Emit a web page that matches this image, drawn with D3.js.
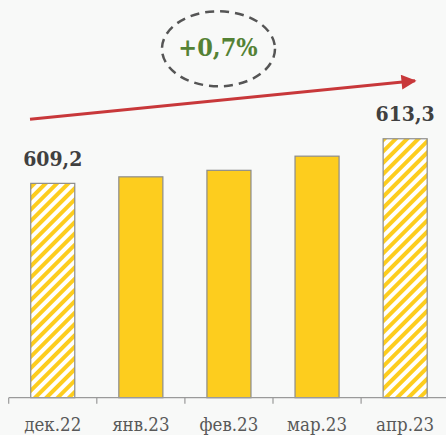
<!DOCTYPE html>
<html>
<head>
<meta charset="utf-8">
<script src="https://cdn.jsdelivr.net/npm/d3@7"></script>
<style>
  html, body { margin: 0; padding: 0; background: #f8f9f8; }
  svg { display: block; }
</style>
</head>
<body>
<svg id="chart" width="446" height="435"></svg>
<script>
// Monthly values, first and last months highlighted with hatching
const months = ["дек.22", "янв.23", "фев.23", "мар.23", "апр.23"];
const values = [609.2, 609.8, 610.4, 611.7, 613.3];
const hatched = [true, false, false, false, true];
const labelled = [true, false, false, false, true];
const changeText = "+0,7%";

const svg = d3.select("#chart");
const W = 446, H = 435;
const FONT = "'DejaVu Serif Condensed', 'DejaVu Serif', serif";

const x = d3.scaleBand()
  .domain(months)
  .range([8.7, 449.2])
  .paddingInner(0.5)
  .paddingOuter(0.25);

const y = d3.scaleLinear()
  .domain([589.5, 614])
  .range([397.7, 397.7 - 24.5 * 10.88]);

const defs = svg.append("defs");
const pat = defs.append("pattern")
  .attr("id", "hatch")
  .attr("patternUnits", "userSpaceOnUse")
  .attr("width", 8).attr("height", 8)
  .attr("patternTransform", "rotate(45)");
pat.append("rect").attr("width", 8).attr("height", 8).attr("fill", "#ffffff");
pat.append("rect").attr("width", 4).attr("height", 8).attr("fill", "#fdcd1e");

const data = months.map((m, i) => ({ m, v: values[i], h: hatched[i], l: labelled[i] }));

// Bars
svg.append("g").selectAll("rect")
  .data(data)
  .join("rect")
  .attr("x", d => x(d.m))
  .attr("y", d => y(d.v))
  .attr("width", x.bandwidth())
  .attr("height", d => y(589.5) - y(d.v))
  .attr("fill", d => d.h ? "url(#hatch)" : "#fdcd1e")
  .attr("stroke", "#8c8c8c")
  .attr("stroke-width", 1.2);

// Category axis with ticks between bands
const axisY = y(589.5);
const ax = svg.append("g");
ax.append("line")
  .attr("x1", x.range()[0]).attr("x2", W)
  .attr("y1", axisY).attr("y2", axisY)
  .attr("stroke", "#9a9a9a").attr("stroke-width", 1.2);
ax.selectAll("line.tick")
  .data(months)
  .join("line")
  .attr("class", "tick")
  .attr("x1", d => x(d) - x.step() * 0.25)
  .attr("x2", d => x(d) - x.step() * 0.25)
  .attr("y1", axisY).attr("y2", axisY + 6)
  .attr("stroke", "#9a9a9a").attr("stroke-width", 1.2);
ax.selectAll("text")
  .data(months)
  .join("text")
  .attr("x", d => x(d) + x.bandwidth() / 2)
  .attr("y", 430.5)
  .attr("text-anchor", "middle")
  .attr("font-family", FONT)
  .attr("font-size", 18.5)
  .attr("fill", "#595959")
  .text(d => d);

// Value labels on highlighted bars
svg.append("g").selectAll("text")
  .data(data.filter(d => d.l))
  .join("text")
  .attr("x", d => x(d.m) + x.bandwidth() / 2)
  .attr("y", d => y(d.v) - 17.5)
  .attr("text-anchor", "middle")
  .attr("font-family", FONT)
  .attr("font-weight", "bold")
  .attr("font-size", 21)
  .attr("fill", "#404040")
  .text(d => d3.format(".1f")(d.v).replace(".", ","));

// Trend arrow
defs.append("marker")
  .attr("id", "arrowhead")
  .attr("viewBox", "0 0 10 10")
  .attr("refX", 9).attr("refY", 5)
  .attr("markerWidth", 5.5).attr("markerHeight", 5)
  .attr("orient", "auto")
  .attr("markerUnits", "strokeWidth")
  .append("path")
  .attr("d", "M0,0 L10,5 L0,10 Z")
  .attr("fill", "#c8383a");
svg.append("line")
  .attr("x1", 30).attr("y1", 119.3)
  .attr("x2", 415).attr("y2", 80.8)
  .attr("stroke", "#c8383a")
  .attr("stroke-width", 3)
  .attr("marker-end", "url(#arrowhead)");

// Change badge
svg.append("ellipse")
  .attr("cx", 218.5).attr("cy", 48.8)
  .attr("rx", 56.5).attr("ry", 37.5)
  .attr("fill", "none")
  .attr("stroke", "#555555")
  .attr("stroke-width", 2.5)
  .attr("stroke-dasharray", "9,6");
svg.append("text")
  .attr("x", 218).attr("y", 55.5)
  .attr("text-anchor", "middle")
  .attr("font-family", FONT)
  .attr("font-weight", "bold")
  .attr("font-size", 25)
  .attr("fill", "#548235")
  .text(changeText);
</script>
</body>
</html>
